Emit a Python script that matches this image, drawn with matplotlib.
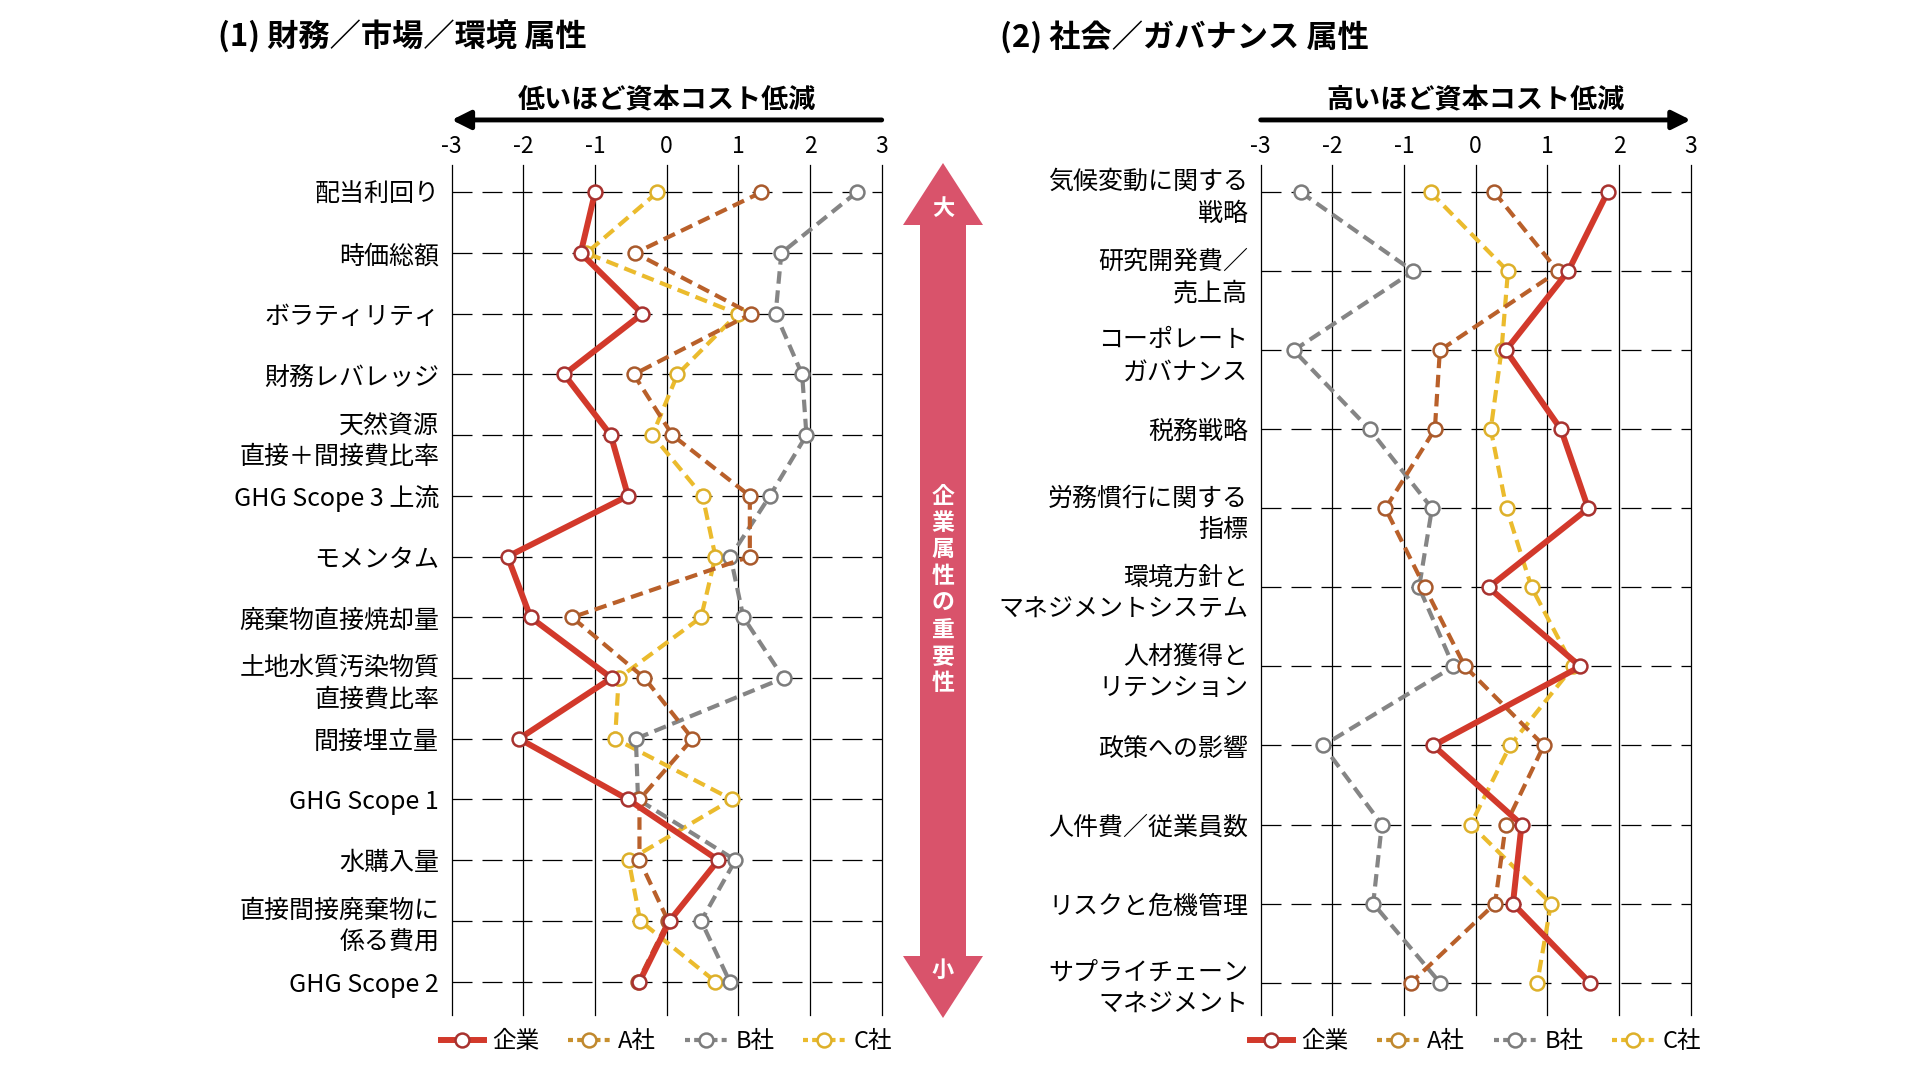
import matplotlib
matplotlib.use('Agg')
from matplotlib import pyplot as plt
from matplotlib.lines import Line2D
from matplotlib.patches import Polygon

plt.rcParams['font.family'] = ['Noto Sans CJK JP', 'DejaVu Sans']

# (1) 財務／市場／環境
labels_left = ['配当利回り', '時価総額', 'ボラティリティ', '財務レバレッジ',
               '天然資源\n直接＋間接費比率', 'GHG Scope 3 上流', 'モメンタム',
               '廃棄物直接焼却量', '土地水質汚染物質\n直接費比率', '間接埋立量',
               'GHG Scope 1', '水購入量', '直接間接廃棄物に\n係る費用', 'GHG Scope 2']
kigyo_left = [-1.00, -1.20, -0.34, -1.43, -0.78, -0.54, -2.22, -1.90, -0.77, -2.06, -0.54, 0.72, 0.04, -0.38]
a_left = [1.32, -0.44, 1.18, -0.46, 0.08, 1.16, 1.16, -1.32, -0.31, 0.36, -0.38, -0.38, 0.02, -0.40]
b_left = [2.65, 1.60, 1.52, 1.89, 1.95, 1.44, 0.89, 1.07, 1.63, -0.43, -0.40, 0.96, 0.48, 0.88]
c_left = [-0.13, -1.12, 0.99, 0.15, -0.20, 0.50, 0.68, 0.48, -0.67, -0.72, 0.91, -0.53, -0.37, 0.68]

# (2) 社会／ガバナンス
labels_right = ['気候変動に関する\n戦略', '研究開発費／\n売上高', 'コーポレート\nガバナンス', '税務戦略',
                '労務慣行に関する\n指標', '環境方針と\nマネジメントシステム', '人材獲得と\nリテンション',
                '政策への影響', '人件費／従業員数', 'リスクと危機管理', 'サプライチェーン\nマネジメント']
kigyo_right = [1.84, 1.29, 0.42, 1.19, 1.57, 0.18, 1.46, -0.59, 0.64, 0.52, 1.59]
a_right = [0.26, 1.15, -0.50, -0.57, -1.26, -0.71, -0.15, 0.95, 0.42, 0.27, -0.90]
b_right = [-2.44, -0.87, -2.54, -1.48, -0.61, -0.79, -0.31, -2.13, -1.31, -1.43, -0.50]
c_right = [-0.63, 0.45, 0.36, 0.21, 0.43, 0.78, 1.36, 0.48, -0.07, 1.05, 0.86]

series_names = ['企業', 'A社', 'B社', 'C社']
xticks = [-3, -2, -1, 0, 1, 2, 3]

RED = '#D2392B'
ORANGE = '#B9602A'
GRAY = '#858585'
YELLOW = '#EBBB2D'
PINK = '#D9536B'

W, H = 1918, 1091
fig = plt.figure(figsize=(W / 100, H / 100), dpi=100)


def draw_panel(ax, labels, kigyo, a, b, c, top_idx, bot_idx):
    n = len(labels)
    ys = list(range(n))
    ax.set_xlim(-3, 3)
    ax.set_ylim(bot_idx, top_idx)
    for s in ax.spines.values():
        s.set_visible(False)
    for x in xticks:
        ax.axvline(x, color='black', lw=0.9, zorder=1, clip_on=False)
    for y in ys:
        ax.axhline(y, color='black', lw=0.9, ls=(0, (16, 8)), zorder=1)

    dash = (0, (3.0, 1.6))
    ax.plot(c, ys, color=YELLOW, lw=3.0, ls=dash, marker='o', ms=10,
            mfc='white', mec='#DDB02A', mew=1.8, zorder=3)
    ax.plot(b, ys, color=GRAY, lw=3.0, ls=dash, marker='o', ms=10,
            mfc='white', mec='#7C7C7C', mew=1.8, zorder=3)
    ax.plot(a, ys, color=ORANGE, lw=3.0, ls=dash, marker='o', ms=10,
            mfc='white', mec='#A95A2C', mew=1.8, zorder=3)
    ax.plot(kigyo, ys, color=RED, lw=4.3, ls='-', marker='o', ms=10,
            mfc='white', mec='#A8322F', mew=1.8, zorder=4)

    ax.xaxis.tick_top()
    ax.set_xticks(xticks)
    ax.set_xticklabels([str(x) for x in xticks])
    ax.tick_params(axis='x', length=0, pad=5, labelsize=16.5)
    ax.set_yticks(ys)
    ax.set_yticklabels(labels, linespacing=1.3)
    ax.tick_params(axis='y', length=0, pad=9, labelsize=18)

    handles = [
        Line2D([], [], color=RED, lw=4.3, marker='o', ms=10, mfc='white', mec='#A8322F', mew=1.8),
        Line2D([], [], color='#C8902E', lw=3.0, ls=(0, (1.2, 1.0)), marker='o', ms=10, mfc='white', mec='#C0882E', mew=1.8),
        Line2D([], [], color=GRAY, lw=3.0, ls=(0, (1.2, 1.0)), marker='o', ms=10, mfc='white', mec='#7C7C7C', mew=1.8),
        Line2D([], [], color=YELLOW, lw=3.0, ls=(0, (1.2, 1.0)), marker='o', ms=10, mfc='white', mec='#DDB02A', mew=1.8),
    ]
    ax.legend(handles, series_names, loc='center', bbox_to_anchor=(0.5, -0.031),
              ncol=4, frameon=False, fontsize=17, handlelength=1.8,
              handletextpad=0.35, columnspacing=1.2, borderaxespad=0)


# axes placed in pixel terms: x -3..3 spans 430 px, top 165, bottom 1015
ax1 = fig.add_axes([451.7 / W, 1 - 1015 / H, 430 / W, 850 / H])
draw_panel(ax1, labels_left, kigyo_left, a_left, b_left, c_left, -0.45, 13.55)
ax2 = fig.add_axes([1260.7 / W, 1 - 1015 / H, 430 / W, 850 / H])
draw_panel(ax2, labels_right, kigyo_right, a_right, b_right, c_right, -0.345, 10.41)

# header arrows
ax1.annotate('', xy=(0, 1.053), xytext=(1, 1.053), xycoords='axes fraction',
             arrowprops=dict(arrowstyle='-|>', lw=3.5, color='black', mutation_scale=28,
                             shrinkA=0, shrinkB=0))
ax1.text(0.5, 1.076, '低いほど資本コスト低減', transform=ax1.transAxes, ha='center',
         va='center', fontsize=19.5, fontweight='bold')
ax2.annotate('', xy=(1, 1.053), xytext=(0, 1.053), xycoords='axes fraction',
             arrowprops=dict(arrowstyle='-|>', lw=3.5, color='black', mutation_scale=28,
                             shrinkA=0, shrinkB=0))
ax2.text(0.5, 1.076, '高いほど資本コスト低減', transform=ax2.transAxes, ha='center',
         va='center', fontsize=19.5, fontweight='bold')

# titles
fig.text(218 / W, 1 - 36.7 / H, '(1) 財務／市場／環境 属性', ha='left', va='center',
         fontsize=22.5, fontweight='bold')
fig.text(1000 / W, 1 - 36.7 / H, '(2) 社会／ガバナンス 属性', ha='left', va='center',
         fontsize=22.5, fontweight='bold')

# importance double arrow in the middle
cx, top, bot = 943, 163, 1018
sw, hw, hl = 23, 40, 62
pts = [(cx, top), (cx + hw, top + hl), (cx + sw, top + hl), (cx + sw, bot - hl),
       (cx + hw, bot - hl), (cx, bot), (cx - hw, bot - hl), (cx - sw, bot - hl),
       (cx - sw, top + hl), (cx - hw, top + hl)]
pts = [(x / W, 1 - y / H) for x, y in pts]
fig.add_artist(Polygon(pts, closed=True, facecolor=PINK, edgecolor='none',
                       transform=fig.transFigure))
fig.text(cx / W, 1 - 208 / H, '大', ha='center', va='center', color='white',
         fontsize=16, fontweight='bold')
fig.text(cx / W, 1 - 970 / H, '小', ha='center', va='center', color='white',
         fontsize=16, fontweight='bold')
vtext = '企業属性の重要性'
for i, ch in enumerate(vtext):
    fig.text(cx / W, 1 - (590 + (i - 3.5) * 26.8) / H, ch, ha='center', va='center',
             color='white', fontsize=16.5, fontweight='bold')

plt.savefig('out.png', dpi=100)
